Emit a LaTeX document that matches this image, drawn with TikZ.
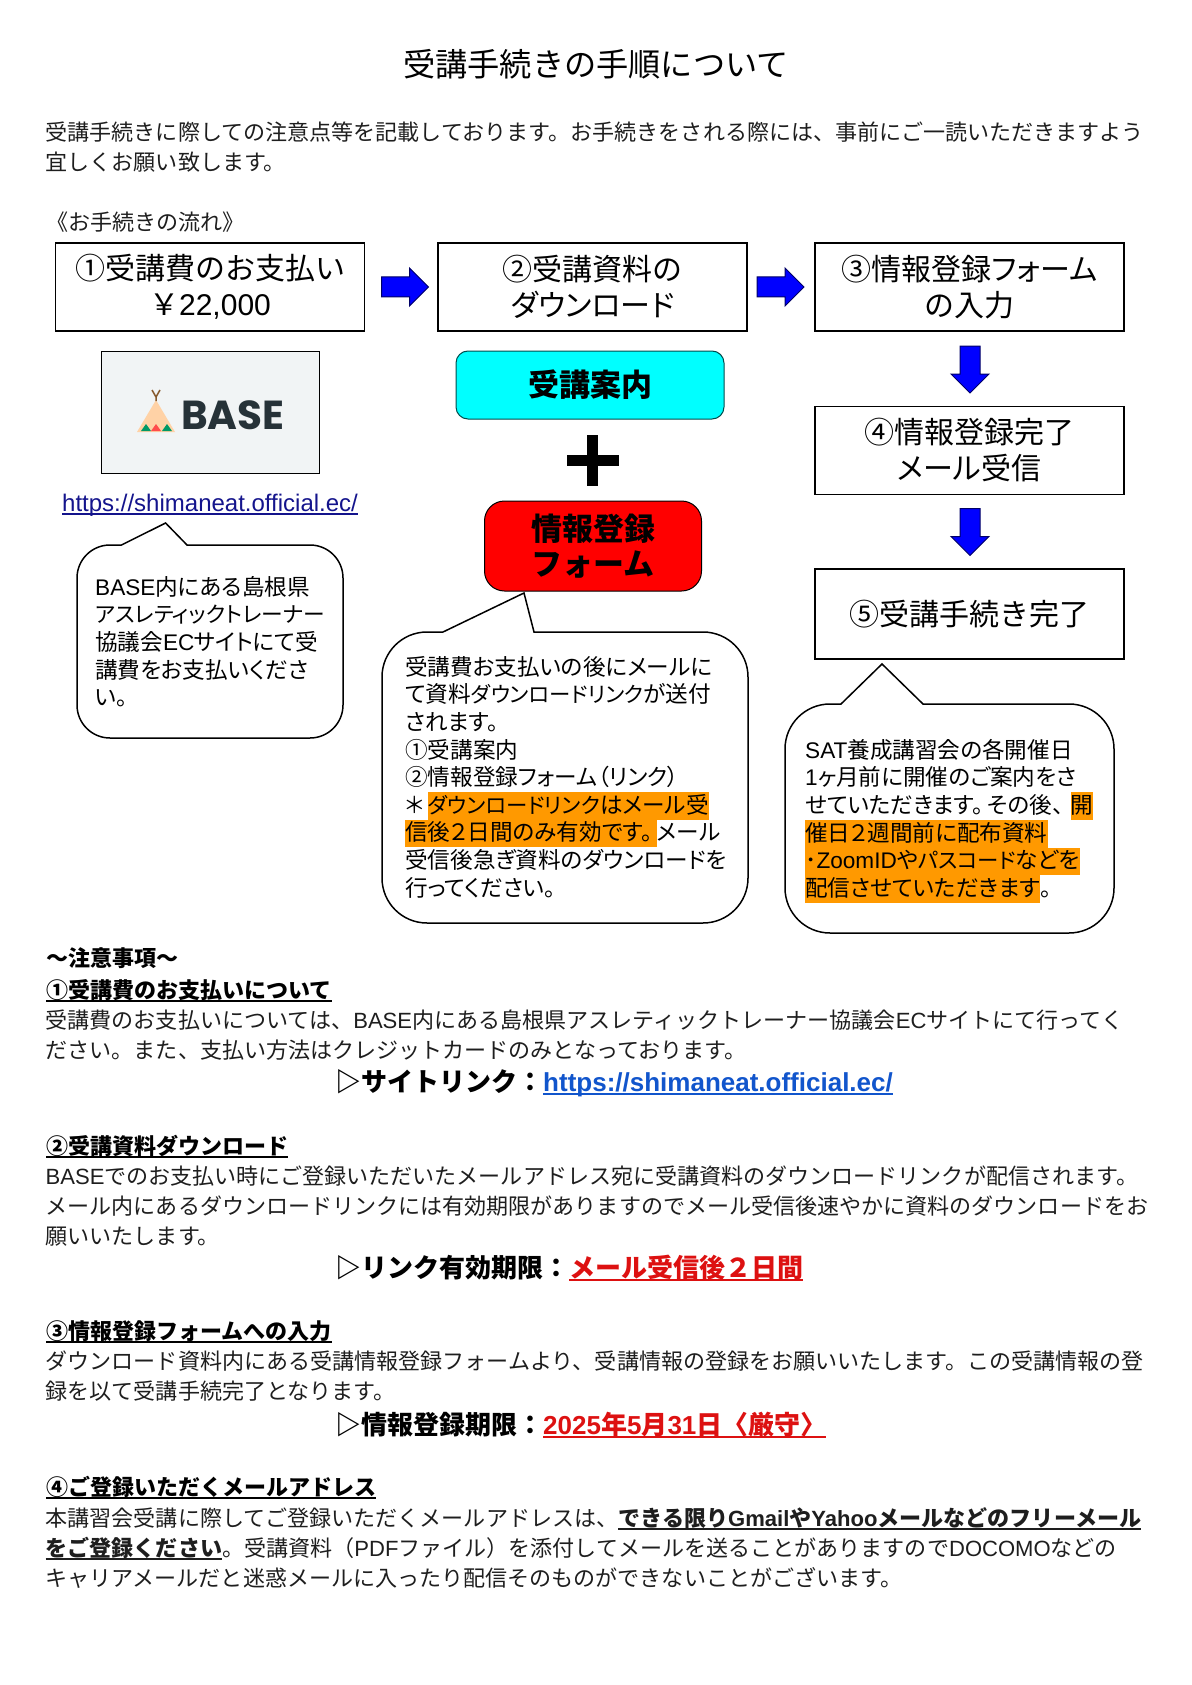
\documentclass[tikz,border=0pt]{standalone}
\usepackage{fontspec}
\usepackage{xcolor}
\usetikzlibrary{shapes.arrows, positioning}
\setmainfont{Noto Sans CJK JP}
\newfontfamily\latinfont{Liberation Sans}
\newfontfamily\logofont{Poppins}
\newfontfamily\paltfont[RawFeature=+palt]{Noto Sans CJK JP}
\definecolor{bodyink}{RGB}{30, 30, 30}
\definecolor{hlorange}{RGB}{255, 153, 0}
\definecolor{linkblue}{RGB}{17, 85, 204}
\definecolor{linknavy}{RGB}{20, 20, 140}
\definecolor{alertred}{RGB}{221, 17, 17}
\definecolor{purecyan}{RGB}{0, 255, 255}
\definecolor{purered}{RGB}{255, 0, 0}
\definecolor{pureblue}{RGB}{0, 0, 255}
\definecolor{logogrey}{RGB}{241, 244, 245}
\definecolor{logoink}{RGB}{38, 50, 56}
\lineskiplimit=-100pt
\newcommand{\lat}[1]{{\latinfont #1}}
\newcommand{\pal}[1]{{\paltfont #1}}
\newcommand{\kana}[1]{{\fontsize{21.4}{27.6}\selectfont #1}}
\newcommand{\ulbar}[1]{\setbox0\hbox{#1}\rlap{\rule[-4pt]{\wd0}{1.8pt}}\box0}
\newcommand{\hlbar}[1]{{\setlength{\fboxsep}{0pt}\colorbox{hlorange}{\rule[-6.5pt]{0pt}{27.6pt}#1}}}
% left, top, right, bottom, radius, tail start, apex x, apex y, tail end
\newcommand{\bubble}[9]{\draw[calloutline] (#6,#2) -- (#7,#8) -- (#9,#2) -- ({#3-#5},#2) arc[start angle=-90, end angle=0, radius=#5] -- (#3,{#4-#5}) arc[start angle=0, end angle=90, radius=#5] -- ({#1+#5},#4) arc[start angle=90, end angle=180, radius=#5] -- (#1,{#2+#5}) arc[start angle=180, end angle=270, radius=#5] -- cycle;}
\tikzset{
  flowbox/.style={draw=black, line width=1.5pt, minimum width=309, minimum height=88, align=center, inner sep=0, font=\fontsize{30}{36}\selectfont},
  blockarrow/.style={single arrow, draw=black!60!blue, fill=pureblue, line width=1pt, inner sep=0, text height=19pt, text depth=0pt, minimum height=47, single arrow head extend=9, single arrow head indent=0, single arrow tip angle=90},
  calloutline/.style={draw=black, line width=1.5pt, fill=white},
  callouttext/.style={anchor=north west, inner sep=0, align=left, font=\fontsize{22.6}{27.6}\selectfont\paltfont},
  bodytext/.style={anchor=north west, inner sep=0, align=left, text=bodyink, font=\fontsize{22.05}{30}\selectfont},
  headtext/.style={anchor=base west, inner sep=0, font=\fontsize{22}{30}\selectfont\bfseries},
  linkline/.style={anchor=base west, inner sep=0, font=\fontsize{26}{30}\selectfont\bfseries}
}
\begin{document}
\begin{tikzpicture}[x=1pt, y=-1pt]
\useasboundingbox (0,0) rectangle (1191,1685);

% Title and intro
\node[inner sep=0, font=\fontsize{32.2}{36}\selectfont] (title) at (596,64) {受講手続きの手順について};
\node[bodytext] (intro) at (45.5,122) {受講手続きに際しての注意点等を記載しております。お手続きをされる際には、事前にご一読いただきますよう\\宜しくお願い致します。};
\node[bodytext] (flowhead) at (46,212) {《お手続きの流れ》};

% Flow boxes
\node[flowbox] (payment) at (210,287) {①受講費のお支払い\\￥\lat{22,000}};
\node[flowbox] (download) at (592.5,287) {②受講資料の\\\pal{ダウンロード}};
\node[flowbox] (entry) at (969.5,287) {③情報登録\pal{フォーム}\\の入力};
\node[flowbox] (mail) at (969.5,450.5) {④情報登録完了\\\pal{メール}受信};
\node[flowbox, minimum height=90] (done) at (969.5,614) {⑤受講手続き完了};

% Block arrows
\node[blockarrow] (stepa) at (400,287) {};
\node[blockarrow] (stepb) at (775.5,287) {};
\node[blockarrow, rotate=-90] (stepc) at (970,364.5) {};
\node[blockarrow, rotate=-90] (stepd) at (970,527) {};

% BASE logo
\draw[black, line width=1pt, fill=logogrey] (101.5,351) rectangle (319,473.5);
\fill[orange!35!white] (156,400) -- (175,432) -- (137,432) -- cycle;
\draw[brown!70!black, line width=1.5pt] (156,401) -- (156,395) (152,390) -- (156,397) -- (160,390);
\fill[teal!80!green] (146,424) -- (151,431) -- (141,431) -- cycle;
\fill[red!60!pink] (156,424) -- (161,431) -- (151,431) -- cycle;
\fill[teal!80!green] (167,424) -- (172,431) -- (162,431) -- cycle;
\node[anchor=base west, inner sep=0, text=logoink, font=\fontsize{40.5}{43}\selectfont\logofont\bfseries] (baselogo) at (181,429) {BASE};
\node[anchor=base west, inner sep=0, text=linknavy, font=\fontsize{24}{28}\selectfont\latinfont] (shoplink) at (62,511) {\ulbar{https://shimaneat.official.ec/}};

% Middle column
\node[draw=teal!60!black, fill=purecyan, rounded corners=12, line width=1pt, minimum width=268, minimum height=68, inner sep=0, font=\fontsize{31}{36}\selectfont\bfseries] (guide) at (590,385) {受講案内};
\node[fill=black, minimum width=52, minimum height=11, inner sep=0] (plusbar) at (592.5,460) {};
\node[fill=black, minimum width=11, minimum height=51, inner sep=0] (plusstem) at (592.5,460) {};
\node[draw=black, fill=purered, rounded corners=20, line width=1pt, minimum width=217, minimum height=90, inner sep=0, align=center, font=\fontsize{31}{35}\selectfont\bfseries] (formbox) at (593,546) {情報登録\\フォーム};

% Speech bubbles
\bubble{77}{545}{343}{738}{33}{121.5}{165.6}{523}{187}
\node[callouttext] (noteshop) at (95,576) {\lat{BASE}内にある島根県\\{\fontsize{21.7}{27.6}\selectfont アスレティックトレーナー}\\協議会\lat{EC}サイトにて受\\講費をお支払いくださ\\い。};

\bubble{382}{632}{748}{923}{45}{443}{524}{593}{534}
\node[callouttext] (notefiles) at (405,656) {受講費お支払いの後にメールに\\て資料\kana{ダウンロードリンク}が送付\\されます。\\①受講案内\\②情報登録フォーム（リンク）\\＊\hspace{4pt}\hlbar{\kana{ダウンロードリンク}はメール受}\\\hlbar{信後２日間のみ有効です。\hspace{5pt}}メール\\受信後急ぎ資料のダウンロードを\\行ってください。};

\bubble{785}{704}{1114}{933}{45}{841}{882}{664}{923}
\node[callouttext] (notesat) at (805,739) {\lat{SAT}養成講習会の各開催日\\\lat{1}ヶ月前に開催のご案内をさ\\せていただきます。\hspace{4pt}その後、\hspace{7pt}\hlbar{開}\\\hlbar{催日２週間前に配布資料}\\\hlbar{･\lat{ZoomID}や\kana{パスコード}などを}\\\hlbar{配信させていただきます}。};

% Notes
\node[headtext] (notehead) at (46,966) {～注意事項～};
\node[headtext] (heada) at (46,998) {\ulbar{①受講費のお支払いについて}};
\node[bodytext] (bodya) at (45.5,1010) {受講費のお支払いについては、\lat{BASE}内にある島根県アスレティックトレーナー協議会\lat{EC}サイトにて行ってく\\ださい。また、支払い方法はクレジットカードのみとなっております。};
\node[linkline] (linka) at (335,1091) {▷サイトリンク：\textcolor{linkblue}{\ulbar{\lat{https://shimaneat.official.ec/}}}};

\node[headtext] (headb) at (46,1154) {\ulbar{②受講資料ダウンロード}};
\node[bodytext] (bodyb) at (45.5,1166) {\lat{BASE}でのお支払い時にご登録いただいたメールアドレス宛に受講資料のダウンロードリンクが配信されます。\\メール内にあるダウンロードリンクには有効期限がありますのでメール受信後速やかに資料のダウンロードをお\\願いいたします。};
\node[linkline] (linkb) at (335,1277) {▷リンク有効期限：\textcolor{alertred}{\ulbar{メール受信後２日間}}};

\node[headtext] (headc) at (46,1339) {\ulbar{③情報登録フォームへの入力}};
\node[bodytext] (bodyc) at (45.5,1351) {ダウンロード資料内にある受講情報登録フォームより、受講情報の登録をお願いいたします。この受講情報の登\\録を以て受講手続完了となります。};
\node[linkline] (linkc) at (335,1434) {▷情報登録期限：\textcolor{alertred}{\ulbar{\lat{2025}年\lat{5}月\lat{31}日〈厳守〉}}};

\node[headtext] (headd) at (46,1495) {\ulbar{④ご登録いただくメールアドレス}};
\node[bodytext] (bodyd) at (45.5,1507) {本講習会受講に際してご登録いただくメールアドレスは、{\bfseries\ulbar{できる限り\lat{Gmail}や\lat{Yahoo}メールなどのフリーメール}}\\{\bfseries\ulbar{をご登録ください}}。受講資料（\lat{PDF}ファイル）を添付してメールを送ることがありますので\lat{DOCOMO}などの\\キャリアメールだと迷惑メールに入ったり配信そのものができないことがございます。};
\end{tikzpicture}
\end{document}
